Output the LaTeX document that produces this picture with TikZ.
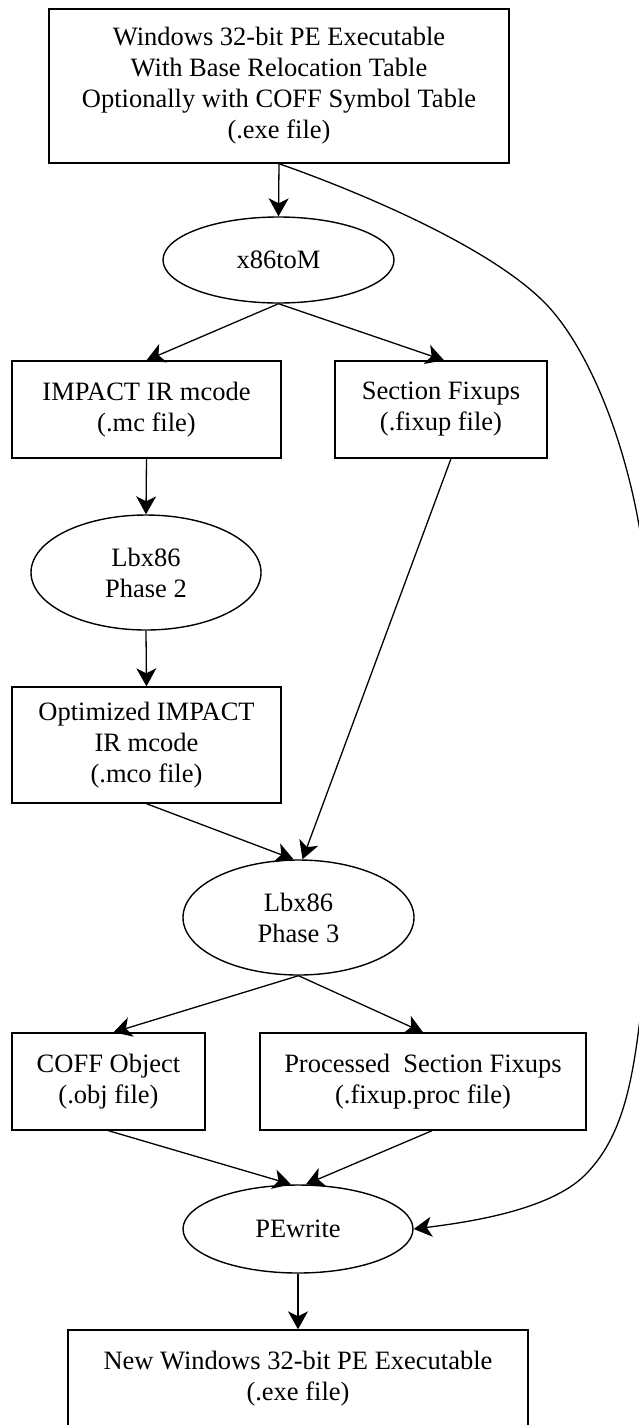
\documentclass[tikz,border=0pt]{standalone}
\usepackage{fontspec}
\setmainfont{Liberation Serif}
\usetikzlibrary{shapes.geometric,arrows.meta}
\begin{document}
\begin{tikzpicture}[
			x=1pt,y=-1pt,
			every node/.style={font=\fontsize{26.5}{31}\selectfont,align=center,inner sep=0pt},
			filebox/.style={draw,rectangle,line width=1.4pt},
			toolnode/.style={draw,ellipse,line width=1.4pt},
			flow/.style={line width=1.3pt,-{Stealth[length=18pt,width=20pt,inset=5pt]}}
			]
			\useasboundingbox (0,0) rectangle (639,1425);
			\node[filebox,minimum width=460pt,minimum height=154pt] (exe) at (279,86)
				{Windows 32-bit PE Executable\\With Base Relocation Table\\Optionally with COFF Symbol Table\\(.exe file)};
			\node[toolnode,minimum width=231pt,minimum height=86pt] (x86) at (278.5,260) {x86toM};
			\node[filebox,minimum width=269pt,minimum height=97pt] (mc) at (146.5,409.5) {IMPACT IR mcode\\(.mc file)};
			\node[filebox,minimum width=212pt,minimum height=97pt] (fix) at (441,409.5) {Section Fixups\\(.fixup file)};
			\node[toolnode,minimum width=230pt,minimum height=115pt] (ph2) at (146,572.5) {Lbx86\\Phase 2};
			\node[filebox,minimum width=269pt,minimum height=116pt] (mco) at (146.5,745) {Optimized IMPACT\\IR mcode\\(.mco file)};
			\node[toolnode,minimum width=231pt,minimum height=115pt] (ph3) at (298.5,917.5) {Lbx86\\Phase 3};
			\node[filebox,minimum width=193pt,minimum height=97pt] (obj) at (108.5,1081.5) {COFF Object\\(.obj file)};
			\node[filebox,minimum width=326pt,minimum height=97pt] (proc) at (423,1081.5) {Processed\ \ Section Fixups\\(.fixup.proc file)};
			\node[toolnode,minimum width=230pt,minimum height=88pt] (pew) at (298,1229) {PEwrite};
			\node[filebox,minimum width=460pt,minimum height=97pt] (newexe) at (298,1378.5) {New Windows 32-bit PE Executable\\(.exe file)};
			\draw[flow] (exe.south) -- (x86.north);
			\draw[flow] (x86.south) -- (mc.north);
			\draw[flow] (x86.south) -- ([xshift=3pt]fix.north);
			\draw[flow] (mc.south) -- (ph2.north);
			\draw[flow] (ph2.south) -- (mco.north);
			\draw[flow] (mco.south) -- ([xshift=-5pt]ph3.north);
			\draw[flow] ([xshift=10pt]fix.south) -- ([xshift=4pt]ph3.north);
			\draw[flow] (ph3.south) -- ([xshift=5pt]obj.north);
			\draw[flow] (ph3.south) -- (proc.north);
			\draw[flow] (obj.south) -- ([xshift=-7pt]pew.north);
			\draw[flow] ([xshift=9pt]proc.south) -- ([xshift=8pt]pew.north);
			\draw[flow] (pew.south) -- (newexe.north);
			\draw[flow] (exe.south) .. controls (340,185) and (480,240) .. (542,300)
				.. controls (592,348) and (640,470) .. (648,600)
				.. controls (656,730) and (655,900) .. (639,1027)
				.. controls (631,1090) and (620,1140) .. (585,1175)
				.. controls (550,1210) and (470,1222) .. (pew.east);
		\end{tikzpicture}
\end{document}
